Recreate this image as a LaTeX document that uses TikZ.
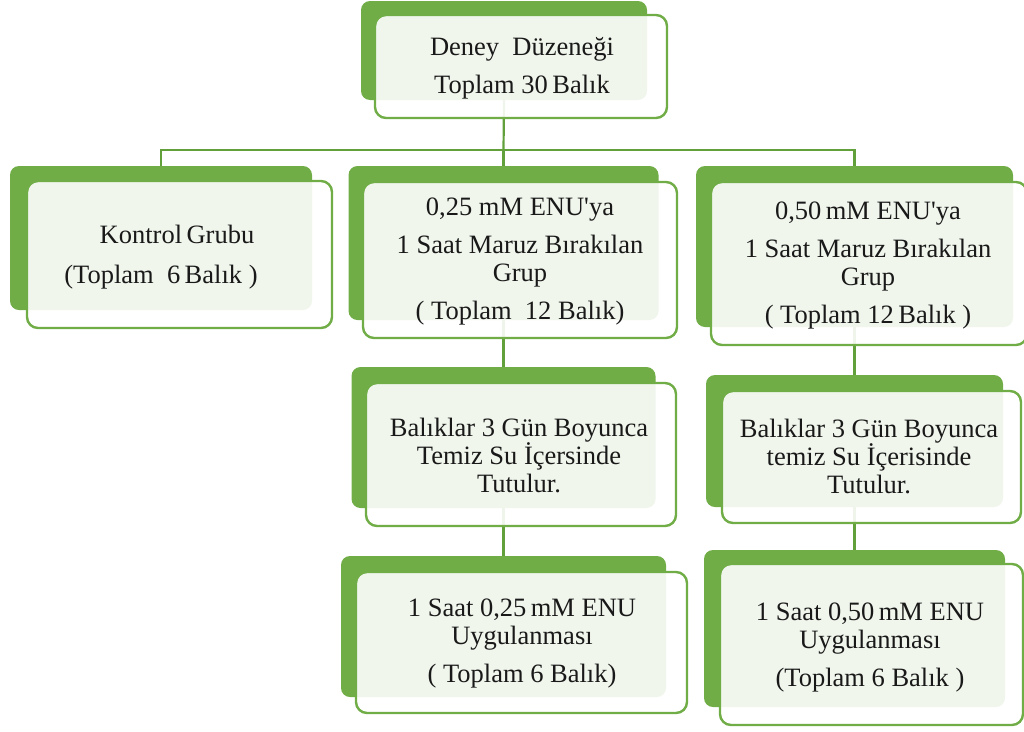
\documentclass[tikz,border=0pt]{standalone}
\usepackage{fontspec}
\setmainfont{Liberation Serif}
\newcommand\sq{\XeTeXglyph\XeTeXcharglyph"27\relax}
\definecolor{grn}{HTML}{70AD47}
\definecolor{cgrn}{HTML}{62A03C}
\tikzset{
  backbox/.style={draw=none, fill=grn, rounded corners=9pt, inner sep=0pt, outer sep=0pt},
  frontbox/.style={draw=grn, line width=2.4pt, fill=white, fill opacity=0.9, rounded corners=11pt, inner sep=0pt, outer sep=0pt},
  txt/.style={align=center, text=black!90, font=\fontsize{26.5}{28}\selectfont, inner sep=0pt},
  conn/.style={draw=cgrn, line width=2.2pt}
}
\begin{document}
\begin{tikzpicture}[x=1pt, y=-1pt]
\useasboundingbox (0,0) rectangle (1024,731);
% back boxes
\node[backbox, minimum width=286pt, minimum height=99pt] (b0) at (504,50.5) {};
\node[backbox, minimum width=302pt, minimum height=144pt] (bk) at (161,238) {};
\node[backbox, minimum width=310pt, minimum height=154pt] (bm) at (503.5,243) {};
\node[backbox, minimum width=317pt, minimum height=161pt] (br) at (854.5,246.5) {};
\node[backbox, minimum width=304pt, minimum height=141pt] (bm2) at (503.5,437.5) {};
\node[backbox, minimum width=297pt, minimum height=132pt] (br2) at (854.5,441) {};
\node[backbox, minimum width=325pt, minimum height=141pt] (bm3) at (503.5,626.5) {};
\node[backbox, minimum width=301pt, minimum height=157pt] (br3) at (854.5,628.5) {};
% connectors
\coordinate (hub) at (503.5,150);
\draw[conn] (b0.south) -- (hub);
\draw[conn] (bk.north) |- (hub) -| (br.north);
\draw[conn] (hub) -- (bm.north);
\draw[conn] (bm.south) -- (bm2.north);
\draw[conn] (bm2.south) -- (bm3.north);
\draw[conn] (br.south) -- (br2.north);
\draw[conn] (br2.south) -- (br3.north);
% front boxes
\node[frontbox, minimum width=292pt, minimum height=103pt] (f0) at (521,66.5) {};
\node[frontbox, minimum width=305pt, minimum height=147pt] (fk) at (179.5,254.5) {};
\node[frontbox, minimum width=314pt, minimum height=156pt] (fm) at (520,260) {};
\node[frontbox, minimum width=316pt, minimum height=163pt] (fr) at (869,263.5) {};
\node[frontbox, minimum width=310pt, minimum height=143pt] (fm2) at (521,454.5) {};
\node[frontbox, minimum width=299pt, minimum height=132pt] (fr2) at (871.5,457) {};
\node[frontbox, minimum width=331pt, minimum height=141pt] (fm3) at (521.5,642.5) {};
\node[frontbox, minimum width=303pt, minimum height=161pt] (fr3) at (871.5,644.5) {};
% texts
\node[txt] (t0) at (522,68) {Deney\ \ Düzeneği\\[10pt]Toplam 30\,Balık};
\node[txt] (tk) at (161,257) {\hspace*{32pt}Kontrol\,Grubu\\[12pt](Toplam\ \ 6\,Balık )};
\node[txt] (tm) at (520,261.5) {0,25 mM ENU\sq ya\\[10pt]1 Saat Maruz Bırakılan\\Grup\\[10pt]( Toplam\ \ 12 Balık)};
\node[txt] (tr) at (868,266) {0,50\,mM ENU\sq ya\\[10pt]1 Saat Maruz Bırakılan\\Grup\\[10pt]( Toplam 12\,Balık )};
\node[txt] (tm2) at (519,455) {Balıklar 3 Gün Boyunca\\Temiz Su İçersinde\\Tutulur.};
\node[txt] (tr2) at (869,456.5) {Balıklar 3 Gün Boyunca\\temiz Su İçerisinde\\Tutulur.};
\node[txt] (tm3) at (522,643.5) {1 Saat 0,25\,mM ENU\\Uygulanması\\[10pt]( Toplam 6 Balık)};
\node[txt] (tr3) at (870,647) {1 Saat 0,50\,mM ENU\\Uygulanması\\[10pt](Toplam 6 Balık )};
\end{tikzpicture}
\end{document}
